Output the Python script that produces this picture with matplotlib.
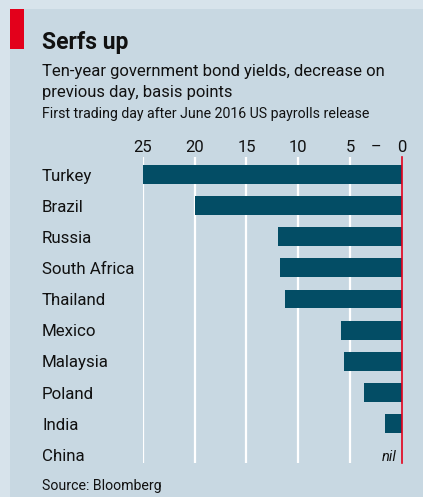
import matplotlib.pyplot as plt
from matplotlib.patches import Rectangle
from matplotlib.transforms import blended_transform_factory

# basis-point fall in ten-year yields, first trading day after payrolls
countries = ["Turkey", "Brazil", "Russia", "South Africa", "Thailand",
             "Mexico", "Malaysia", "Poland", "India", "China"]
decrease = [25.0, 20.0, 12.0, 11.75, 11.3, 5.85, 5.55, 3.6, 1.6, 0.0]
ticks = [25, 20, 15, 10, 5, 0]

W, H = 423, 497
OUTER = "#d7e3eb"
PANEL = "#c8d8e2"
BAR = "#034d65"
RED = "#e3001b"
FONT = "Roboto"

plt.rcParams["font.family"] = [FONT, "DejaVu Sans"]

fig = plt.figure(figsize=(W / 100, H / 100), dpi=100, facecolor=OUTER)


def fx(x):
    return x / W


def fy(y):
    return 1 - y / H


# background panel and red tag
fig.patches.append(Rectangle((fx(10), 0), 1 - fx(10), fy(9), transform=fig.transFigure,
                             facecolor=PANEL, edgecolor="none", zorder=-2))
fig.patches.append(Rectangle((fx(10), fy(49)), fx(14), fy(9) - fy(49), transform=fig.transFigure,
                             facecolor=RED, edgecolor="none", zorder=-1))

fig.text(fx(42), fy(48.5), "Serfs up", fontsize=16.5, fontweight="bold", color="#111111", va="baseline")
fig.text(fx(42), fy(76), "Ten-year government bond yields, decrease on", fontsize=12, color="#111111", va="baseline")
fig.text(fx(42), fy(96.5), "previous day, basis points", fontsize=12, color="#111111", va="baseline")
fig.text(fx(42), fy(118), "First trading day after June 2016 US payrolls release", fontsize=10.2, color="#111111", va="baseline")
fig.text(fx(42), fy(490), "Source: Bloomberg", fontsize=10.2, color="#111111", va="baseline")

# axes: x=25 at px 143, x=0 at px 401.7; plot area y 156.7..462.7
left, right, top, bottom = 143, 401.7, 156.7, 462.7
ax = fig.add_axes([fx(left), fy(bottom), fx(right - left), fy(top) - fy(bottom)])
ax.set_zorder(2)
ax.set_facecolor("none")
ax.set_xlim(25, 0)
ax.set_ylim(9.26, -0.572)

for t in ticks[:-1]:
    ax.axvline(t, color="white", lw=1.6, zorder=1)
ax.barh(range(len(countries)), decrease, height=0.61, color=BAR, zorder=2, clip_on=False)
ax.axvline(0, color=RED, lw=1.2, zorder=3, clip_on=False)

for s in ax.spines.values():
    s.set_visible(False)
ax.set_yticks([])
ax.xaxis.tick_top()
ax.set_xticks(ticks)
ax.set_xticklabels([str(t) for t in ticks])
ax.tick_params(axis="x", length=0, pad=1, labelsize=12, labelcolor="#111111")
ax.text(2.5, 1 + 9 / (bottom - top), "\u2013", transform=ax.get_xaxis_transform(),
        ha="center", va="center", fontsize=11.5, color="#111111")

lab = blended_transform_factory(fig.transFigure, ax.transData)
for i, c in enumerate(countries):
    ax.text(fx(42), i + 0.2, c, transform=lab, va="baseline", ha="left", fontsize=12.2, color="#111111")

ax.text(0.45, 9.2, "nil", ha="right", va="baseline", fontsize=10.5, style="italic", color="#111111")

fig.savefig("out.png", dpi=100, facecolor=OUTER)
